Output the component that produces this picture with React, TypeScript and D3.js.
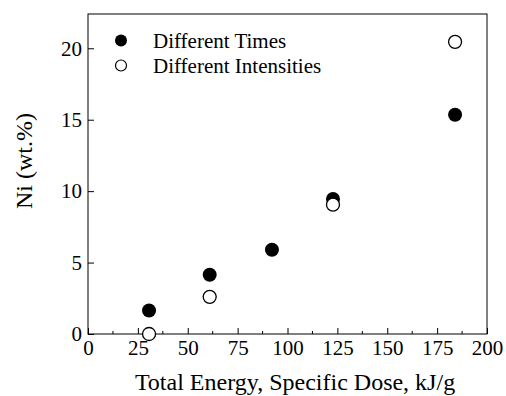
import React, { useEffect, useRef } from 'react';
import * as d3 from 'd3';

// Ni content vs total energy
const timesX = [30.6, 61, 92.2, 122.8, 184];
const timesY = [1.65, 4.15, 5.9, 9.45, 15.35];
const intensX = [30.6, 61, 122.8, 184];
const intensY = [0, 2.6, 9.05, 20.45];
const xTicks = [0, 25, 50, 75, 100, 125, 150, 175, 200];
const yTicks = [0, 5, 10, 15, 20];
const legendLabels = ['Different Times', 'Different Intensities'];

const App: React.FC = () => {
  const ref = useRef<SVGSVGElement | null>(null);

  useEffect(() => {
    if (!ref.current) return;
    const svg = d3.select(ref.current);
    svg.selectAll('*').remove();

    const width = 506;
    const height = 396;
    const margin = { top: 14, right: 19, bottom: 62, left: 88 };
    const w = width - margin.left - margin.right;
    const h = height - margin.top - margin.bottom;
    const font = '"Liberation Serif", "Times New Roman", serif';

    const x = d3.scaleLinear().domain([0, 200]).range([0, w]);
    const y = d3.scaleLinear().domain([0, 22.4]).range([h, 0]);

    const g = svg
      .append('g')
      .attr('transform', `translate(${margin.left},${margin.top})`);

    // frame
    g.append('rect')
      .attr('x', 0)
      .attr('y', 0)
      .attr('width', w)
      .attr('height', h)
      .attr('fill', 'none')
      .attr('stroke', '#000')
      .attr('stroke-width', 1);

    const xAxis = d3
      .axisBottom(x)
      .tickValues(xTicks)
      .tickFormat(d3.format('d'))
      .tickSizeInner(-6)
      .tickSizeOuter(0)
      .tickPadding(6);
    const xg = g.append('g').attr('transform', `translate(0,${h})`).call(xAxis);
    xg.select('.domain').remove();
    xg.selectAll('text').style('font-family', font).style('font-size', '21px').attr('fill', '#000');

    // minor ticks
    g.selectAll('.xminor')
      .data(d3.range(12.5, 200, 25))
      .enter()
      .append('line')
      .attr('x1', (d) => x(d))
      .attr('x2', (d) => x(d))
      .attr('y1', h)
      .attr('y2', h - 3)
      .attr('stroke', '#000');

    const yAxis = d3
      .axisLeft(y)
      .tickValues(yTicks)
      .tickFormat(d3.format('d'))
      .tickSizeInner(-6)
      .tickSizeOuter(0)
      .tickPadding(6);
    const yg = g.append('g').call(yAxis);
    yg.select('.domain').remove();
    yg.selectAll('text').style('font-family', font).style('font-size', '21px').attr('fill', '#000');

    // data
    g.selectAll('.times')
      .data(timesX)
      .enter()
      .append('circle')
      .attr('cx', (d) => x(d))
      .attr('cy', (_d, i) => y(timesY[i]))
      .attr('r', 7)
      .attr('fill', '#000');

    g.selectAll('.intens')
      .data(intensX)
      .enter()
      .append('circle')
      .attr('cx', (d) => x(d))
      .attr('cy', (_d, i) => y(intensY[i]))
      .attr('r', 6.5)
      .attr('fill', '#fff')
      .attr('stroke', '#000')
      .attr('stroke-width', 1.3);

    // legend
    const leg = svg.append('g');
    legendLabels.forEach((lab, i) => {
      const cy = 40.5 + i * 25;
      leg
        .append('circle')
        .attr('cx', 121)
        .attr('cy', cy)
        .attr('r', i === 0 ? 6 : 5.5)
        .attr('fill', i === 0 ? '#000' : '#fff')
        .attr('stroke', '#000')
        .attr('stroke-width', i === 0 ? 0 : 1.2);
      leg
        .append('text')
        .attr('x', 153)
        .attr('y', cy + 7.5)
        .style('font-family', font)
        .style('font-size', '21px')
        .text(lab);
    });

    // axis titles
    svg
      .append('text')
      .attr('x', 295)
      .attr('y', 390)
      .attr('text-anchor', 'middle')
      .style('font-family', font)
      .style('font-size', '24px')
      .text('Total Energy, Specific Dose, kJ/g');

    svg
      .append('text')
      .attr('transform', 'translate(32,161) rotate(-90)')
      .attr('text-anchor', 'middle')
      .style('font-family', font)
      .style('font-size', '24px')
      .text('Ni (wt.%)');
  }, []);

  return (
    <svg
      ref={ref}
      width={506}
      height={396}
      style={{ position: 'absolute', left: 0, top: 0, background: '#fff' }}
    />
  );
};

export default App;
